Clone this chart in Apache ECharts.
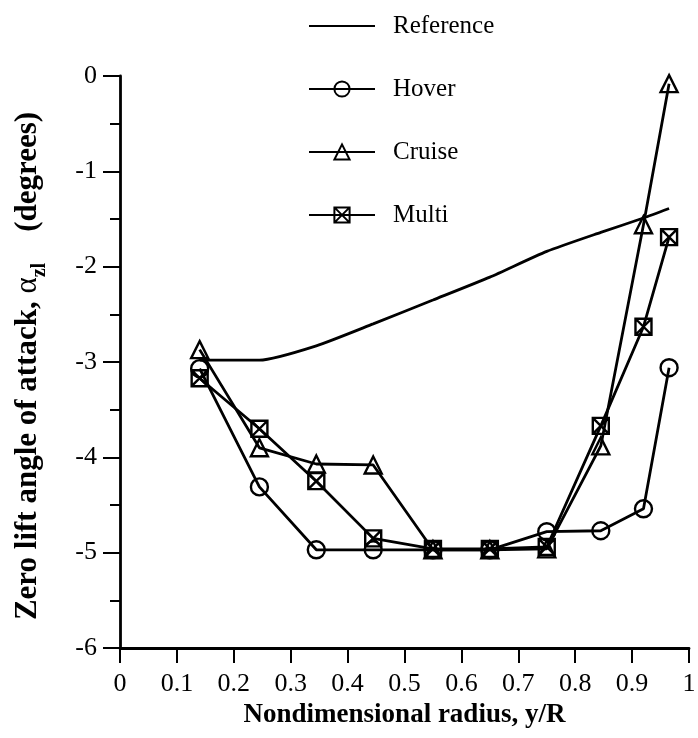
<!DOCTYPE html>
<html><head><meta charset="utf-8">
<script src="https://cdn.jsdelivr.net/npm/echarts@6/dist/echarts.min.js"></script>
<style>html,body{margin:0;padding:0;background:#fff}#c{width:698px;height:738px}</style>
</head><body><div id="c"></div>
<script>
const radius = [0.14, 0.245, 0.345, 0.445, 0.55, 0.65, 0.75, 0.845, 0.92, 0.965];
const reference = [-2.98, -2.98, -2.83, -2.60, -2.35, -2.11, -1.84, -1.64, -1.49, -1.39];
const hover = [-3.07, -4.31, -4.97, -4.97, -4.97, -4.97, -4.78, -4.77, -4.54, -3.06];
const cruise = [-2.87, -3.90, -4.07, -4.08, -4.97, -4.97, -4.96, -3.88, -1.56, -0.08];
const multi = [-3.17, -3.70, -4.25, -4.85, -4.96, -4.96, -4.94, -3.67, -2.63, -1.69];
const seriesNames = ['Reference', 'Hover', 'Cruise', 'Multi'];
const xTickLabels = ['0', '0.1', '0.2', '0.3', '0.4', '0.5', '0.6', '0.7', '0.8', '0.9', '1'];
const yTickLabels = ['-6', '-5', '-4', '-3', '-2', '-1', '0'];

const FONT = 'Liberation Serif';
const pts = arr => radius.map((r, i) => [r, arr[i]]);
const boxX = 'path://M0,0H10V10H0Z M0,0L10,10 M10,0L0,10';

const markStyle = { color: 'rgba(0,0,0,0)', borderColor: '#000', borderWidth: 2.4 };
const lineSt = { color: '#000', width: 2.8 };

const chart = echarts.init(document.getElementById('c'), null, { renderer: 'canvas' });
chart.setOption({
  animation: false,
  backgroundColor: '#fff',
  grid: { left: 120, right: 9, top: 76, bottom: 90, containLabel: false, outerBoundsMode: 'none' },
  legend: {
    orient: 'vertical', left: 303, top: 8,
    itemWidth: 66, itemHeight: 19, itemGap: 37,
    data: seriesNames,
    textStyle: { fontFamily: FONT, fontSize: 25, color: '#000', lineHeight: 26, padding: [0, 0, 0, 13] }
  },
  xAxis: {
    type: 'value', min: 0, max: 1, interval: 0.1,
    name: 'Nondimensional radius, y/R', nameLocation: 'middle', nameGap: 54,
    nameTextStyle: { fontFamily: FONT, fontSize: 27, fontWeight: 'bold', color: '#000' },
    axisLine: { show: true, onZero: false, lineStyle: { color: '#000', width: 2.8 } },
    axisTick: { show: true, inside: false, length: 15, lineStyle: { color: '#000', width: 2 } },
    axisLabel: {
      margin: 23, fontFamily: FONT, fontSize: 26, color: '#000', showMinLabel: true, showMaxLabel: true,
      formatter: v => xTickLabels[Math.round(v * 10)]
    },
    splitLine: { show: false }
  },
  yAxis: {
    type: 'value', min: -6, max: 0, interval: 1,
    name: '{a|Zero lift angle of attack, }{g|α}{s|zl}{a|    (degrees)}',
    nameLocation: 'middle', nameGap: 70, nameRotate: 90,
    nameTextStyle: {
      padding: [0, 8, 0, 0],
      rich: {
        a: { fontFamily: FONT, fontSize: 31, fontWeight: 'bold', color: '#000', padding: [0, 0, 7, 0], verticalAlign: 'bottom' },
        g: { fontFamily: FONT, fontSize: 31, color: '#000', padding: [0, 0, 7, 0], verticalAlign: 'bottom' },
        s: { fontFamily: FONT, fontSize: 20, fontWeight: 'bold', color: '#000', verticalAlign: 'bottom' }
      }
    },
    axisLine: { show: true, onZero: false, lineStyle: { color: '#000', width: 2.8 } },
    axisTick: { show: true, inside: false, length: 17, lineStyle: { color: '#000', width: 2 } },
    minorTick: { show: true, splitNumber: 2, length: 10, lineStyle: { color: '#000', width: 2 } },
    axisLabel: {
      margin: 23, fontFamily: FONT, fontSize: 26, color: '#000', showMinLabel: true, showMaxLabel: true,
      formatter: v => yTickLabels[Math.round(v + 6)]
    },
    splitLine: { show: false }
  },
  series: [
    { name: seriesNames[0], type: 'line', data: pts(reference), symbol: 'none', smooth: 0.2,
      lineStyle: lineSt, itemStyle: { color: 'rgba(0,0,0,0)', borderWidth: 0 } },
    { name: seriesNames[1], type: 'line', data: pts(hover), symbol: 'circle', symbolSize: 17,
      lineStyle: lineSt, itemStyle: markStyle },
    { name: seriesNames[2], type: 'line', data: pts(cruise), symbol: 'triangle', symbolSize: 17,
      lineStyle: lineSt, itemStyle: markStyle },
    { name: seriesNames[3], type: 'line', data: pts(multi), symbol: boxX, symbolSize: 16,
      lineStyle: lineSt, itemStyle: markStyle }
  ]
});
</script></body></html>
